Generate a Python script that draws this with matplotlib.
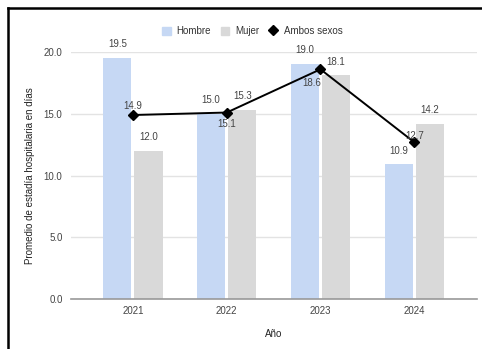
import matplotlib
matplotlib.use("Agg")
import matplotlib.pyplot as plt
import numpy as np
from matplotlib.patches import Patch
from matplotlib.lines import Line2D

plt.rcParams['font.family'] = ['Liberation Sans', 'DejaVu Sans']

# Data
years = ['2021', '2022', '2023', '2024']
hombre = [19.5, 15.0, 19.0, 10.9]
mujer = [12.0, 15.3, 18.1, 14.2]
ambos = [14.9, 15.1, 18.6, 12.7]

# label offsets for the "Ambos sexos" values (points)
ambos_offsets = [(0, 6.5), (0, -8.5), (-6, -10), (0, 4.5)]

col_h = '#c6d8f4'
col_m = '#d9d9d9'
txt = '#444444'

fig = plt.figure(figsize=(4.82, 3.49), dpi=100)
ax = fig.add_axes([0.147, 0.143, 0.843, 0.708])

x = np.arange(len(years))
w = 0.30
off = 0.166
ax.bar(x - off, hombre, width=w, color=col_h, zorder=2)
ax.bar(x + off, mujer, width=w, color=col_m, zorder=2)
ax.plot(x, ambos, color='black', lw=1.4, marker='D', markersize=5, zorder=4)

for i in range(len(years)):
    ax.annotate(f'{hombre[i]:.1f}', (x[i] - off, hombre[i]), xytext=(0, 10),
                textcoords='offset points', ha='center', va='center',
                fontsize=7, color=txt, annotation_clip=False, zorder=5)
    ax.annotate(f'{mujer[i]:.1f}', (x[i] + off, mujer[i]), xytext=(0, 10),
                textcoords='offset points', ha='center', va='center',
                fontsize=7, color=txt, annotation_clip=False, zorder=5)
    ax.annotate(f'{ambos[i]:.1f}', (x[i], ambos[i]), xytext=ambos_offsets[i],
                textcoords='offset points', ha='center', va='center',
                fontsize=7, color=txt, annotation_clip=False, zorder=5)

ax.set_xlim(-0.663, 3.672)
ax.set_ylim(0, 20)
ax.set_yticks([0, 5, 10, 15, 20])
ax.set_yticklabels([f'{v:.1f}' for v in [0, 5, 10, 15, 20]])
ax.set_xticks(x)
ax.set_xticklabels(years)
ax.tick_params(axis='both', length=0, labelsize=7, colors=txt)
ax.tick_params(axis='y', pad=6)
ax.tick_params(axis='x', pad=5)
ax.grid(axis='y', color='#e3e3e3', lw=1, zorder=0)
ax.set_axisbelow(True)
for s in ['top', 'right', 'left']:
    ax.spines[s].set_visible(False)
ax.spines['bottom'].set_color('#999999')
ax.spines['bottom'].set_linewidth(1.2)
ax.spines['bottom'].set_zorder(3)

ax.set_xlabel('Año', fontsize=7, color='#222222', labelpad=9)
ax.set_ylabel('Promedio de estadía hospitalaria en días', fontsize=7,
              color='#222222', labelpad=6)

handles = [Patch(color=col_h, label='Hombre'),
           Patch(color=col_m, label='Mujer'),
           Line2D([], [], color='black', marker='D', markersize=5, lw=0,
                  label='Ambos sexos')]
fig.legend(handles=handles, loc='center', bbox_to_anchor=(0.523, 0.911), ncol=3,
           frameon=False, fontsize=7, handlelength=0.9, handleheight=0.9,
           handletextpad=0.6, columnspacing=1.0, labelcolor='#333333')

# frame lines of the screenshot
fig.add_artist(Line2D([8 / 482, 1], [1 - 8 / 349, 1 - 8 / 349],
                      transform=fig.transFigure, color='black', lw=1.8))
fig.add_artist(Line2D([8 / 482, 8 / 482], [0, 1 - 8 / 349],
                      transform=fig.transFigure, color='black', lw=1.8))

fig.savefig('out.png', dpi=100)
